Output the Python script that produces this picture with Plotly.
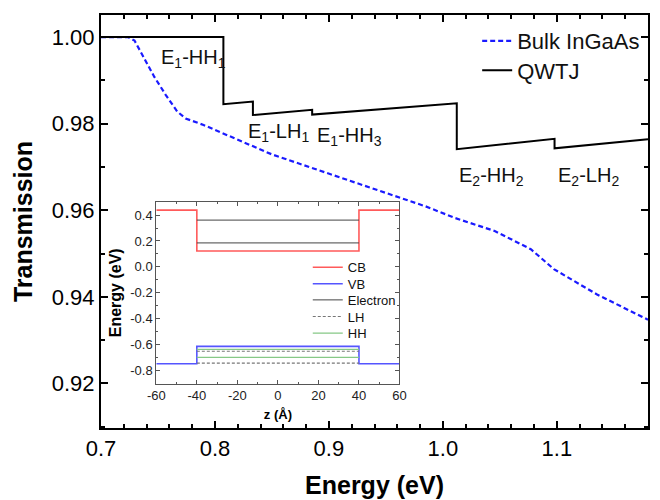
import plotly.graph_objects as go

# ---------------- data ----------------
# Main panel: transmission vs photon energy
bulk_energy = [0.700, 0.7236, 0.7294, 0.7381, 0.7468, 0.7569, 0.7669, 0.7742, 0.790,
               0.8102, 0.850, 0.8983, 0.9848, 1.0108, 1.0455, 1.0772, 1.0974, 1.1349, 1.180]
bulk_trans = [1.000, 1.000, 0.9992, 0.9950, 0.9908, 0.9866, 0.9828, 0.9812, 0.9797,
              0.9774, 0.9729, 0.9686, 0.9609, 0.9582, 0.9552, 0.9510, 0.9464, 0.9406, 0.9347]

qwtj_energy = [0.700, 0.8074, 0.8074, 0.8333, 0.8333, 0.8853, 0.8853, 1.0122, 1.0122,
               1.098, 1.098, 1.180]
qwtj_trans = [1.000, 1.000, 0.9845, 0.9851, 0.9820, 0.9832, 0.9821, 0.9847, 0.9741,
              0.9765, 0.9743, 0.9764]

# transition labels (text, energy, transmission)
trans_labels = ["E<sub>1</sub>-HH<sub>1</sub>", "E<sub>1</sub>-LH<sub>1</sub>",
                "E<sub>1</sub>-HH<sub>3</sub>", "E<sub>2</sub>-HH<sub>2</sub>",
                "E<sub>2</sub>-LH<sub>2</sub>"]
label_energy = [0.7505, 0.8270, 0.8877, 1.0120, 1.0995]
label_trans = [0.9950, 0.9780, 0.9770, 0.9678, 0.9678]

# Inset: band diagram of the quantum well
z_band = [-60, -40, -40, 40, 40, 60]
cb_energy = [0.438, 0.438, 0.123, 0.123, 0.438, 0.438]
vb_energy = [-0.747, -0.747, -0.613, -0.613, -0.747, -0.747]
z_well = [-40, 40, None, -40, 40]
electron_levels = [0.361, 0.361, None, 0.185, 0.185]
lh_levels = [-0.651, -0.651, None, -0.742, -0.742]
hh_levels = [-0.636, -0.636, None, -0.698, -0.698]

# tick labels
main_x_ticks = [0.7, 0.8, 0.9, 1.0, 1.1]
main_x_ticktext = ["0.7", "0.8", "0.9", "1.0", "1.1"]
main_y_ticks = [0.92, 0.94, 0.96, 0.98, 1.00]
main_y_ticktext = ["0.92", "0.94", "0.96", "0.98", "1.00"]
inset_x_ticks = [-60, -40, -20, 0, 20, 40, 60]
inset_x_ticktext = ["-60", "-40", "-20", "0", "20", "40", "60"]
inset_y_ticks = [-0.8, -0.6, -0.4, -0.2, 0.0, 0.2, 0.4]
inset_y_ticktext = ["-0.8", "-0.6", "-0.4", "-0.2", "0.0", "0.2", "0.4"]

FONT = "Arial, Liberation Sans, sans-serif"

fig = go.Figure()

fig.add_trace(go.Scatter(x=bulk_energy, y=bulk_trans, mode="lines", name="Bulk InGaAs",
                         line=dict(color="#1a1aff", width=2.2, dash="5px,3px"),
                         xaxis="x", yaxis="y", legend="legend"))
fig.add_trace(go.Scatter(x=qwtj_energy, y=qwtj_trans, mode="lines", name="QWTJ",
                         line=dict(color="black", width=2),
                         xaxis="x", yaxis="y", legend="legend2"))

fig.add_trace(go.Scatter(x=z_band, y=cb_energy, mode="lines", name="CB",
                         line=dict(color="#ff5a5a", width=1.6),
                         xaxis="x2", yaxis="y2", legend="legend3"))
fig.add_trace(go.Scatter(x=z_band, y=vb_energy, mode="lines", name="VB",
                         line=dict(color="#5555ff", width=1.6),
                         xaxis="x2", yaxis="y2", legend="legend4"))
fig.add_trace(go.Scatter(x=z_well, y=electron_levels, mode="lines", name="Electron",
                         line=dict(color="#444444", width=1),
                         xaxis="x2", yaxis="y2", legend="legend5"))
fig.add_trace(go.Scatter(x=z_well, y=lh_levels, mode="lines", name="LH",
                         line=dict(color="#777777", width=1.2, dash="3px,2px"),
                         xaxis="x2", yaxis="y2", legend="legend6"))
fig.add_trace(go.Scatter(x=z_well, y=hh_levels, mode="lines", name="HH",
                         line=dict(color="#86c886", width=1.2),
                         xaxis="x2", yaxis="y2", legend="legend7"))

for txt, ex, ty in zip(trans_labels, label_energy, label_trans):
    fig.add_annotation(x=ex, y=ty, xref="x", yref="y", text=txt, showarrow=False,
                       xanchor="left", yanchor="middle",
                       font=dict(family=FONT, size=20, color="#111"))

main_axis = dict(showgrid=False, zeroline=False, showline=True, linewidth=2,
                 linecolor="black", mirror="ticks", ticks="inside", ticklen=7,
                 tickwidth=2, tickcolor="black",
                 tickfont=dict(family=FONT, size=22, color="black"))
inset_axis = dict(showgrid=False, zeroline=False, showline=True, linewidth=1,
                  linecolor="#555555", mirror="ticks", ticks="inside", ticklen=4,
                  tickwidth=1, tickcolor="#555555",
                  tickfont=dict(family=FONT, size=13, color="#222"))

def leg(xp, yp, size):
    return dict(x=xp, y=yp, xanchor="left", yanchor="middle", bgcolor="rgba(0,0,0,0)",
                borderwidth=0, font=dict(family=FONT, size=size, color="#111"))

# The page body adds an 8px margin, so the figure is sized 652x492 to fill 660x500.
fig.update_layout(
    width=652, height=492,
    margin=dict(l=93, r=5, t=5, b=72),
    paper_bgcolor="white", plot_bgcolor="white",
    font=dict(family=FONT, color="black"),
    showlegend=True,
    xaxis=dict(main_axis, range=[0.7, 1.18], tickvals=main_x_ticks, ticktext=main_x_ticktext,
               minor=dict(dtick=0.02, tick0=0.7, ticks="inside", ticklen=4, tickwidth=2,
                          tickcolor="black"),
               title=dict(text="<b>Energy (eV)</b>", font=dict(family=FONT, size=25),
                          standoff=16)),
    yaxis=dict(main_axis, range=[0.9097, 1.0051], tickvals=main_y_ticks,
               ticktext=main_y_ticktext,
               minor=dict(dtick=0.01, tick0=0.92, ticks="inside", ticklen=4, tickwidth=2,
                          tickcolor="black"),
               title=dict(text="<b>Transmission</b>", font=dict(family=FONT, size=25),
                          standoff=12)),
    xaxis2=dict(inset_axis, domain=[0.1011, 0.5457], anchor="y2", range=[-60, 60],
                tickvals=inset_x_ticks, ticktext=inset_x_ticktext,
                minor=dict(dtick=10, tick0=-60, ticks="inside", ticklen=2, tickwidth=1,
                           tickcolor="#555555"),
                title=dict(text="<b>z (Å)</b>", font=dict(family=FONT, size=13), standoff=7)),
    yaxis2=dict(inset_axis, domain=[0.1077, 0.547], anchor="x2", range=[-0.9, 0.5],
                tickvals=inset_y_ticks, ticktext=inset_y_ticktext,
                minor=dict(dtick=0.1, tick0=-0.9, ticks="inside", ticklen=2, tickwidth=1,
                           tickcolor="#555555"),
                title=dict(text="<b>Energy (eV)</b>", font=dict(family=FONT, size=16),
                           standoff=4)),
    legend=leg(0.6877, 0.937, 22),
    legend2=leg(0.6877, 0.866, 22),
    legend3=leg(0.3780, 0.3890, 13),
    legend4=leg(0.3780, 0.3490, 13),
    legend5=leg(0.3780, 0.3101, 13),
    legend6=leg(0.3780, 0.2699, 13),
    legend7=leg(0.3780, 0.2296, 13),
)

fig.write_html("out.html")
